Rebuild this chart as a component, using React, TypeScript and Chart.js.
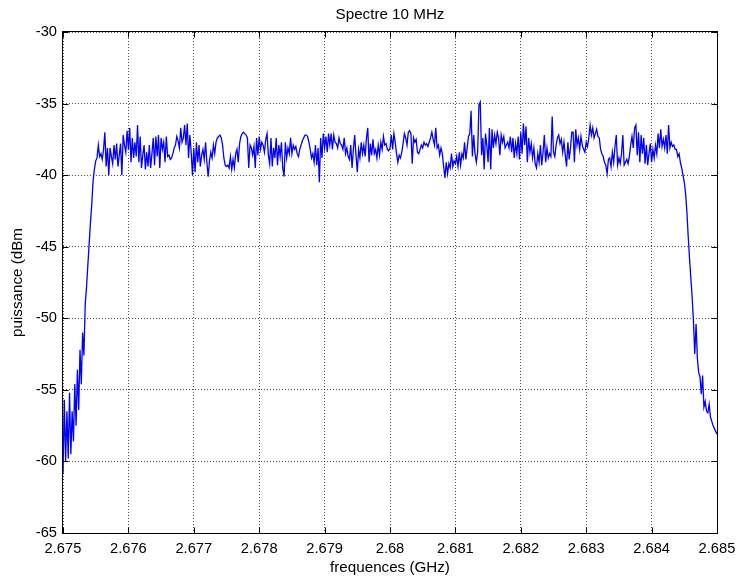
import React, { useEffect, useRef } from 'react';
import { Chart, registerables } from 'chart.js';

Chart.register(...registerables);

const TITLE = 'Spectre 10 MHz';
const X_LABEL = 'frequences (GHz)';
const Y_LABEL = 'puissance (dBm';

const X_TICKS = [2.675, 2.676, 2.677, 2.678, 2.679, 2.68, 2.681, 2.682, 2.683, 2.684, 2.685];
const X_TICK_LABELS = ['2.675', '2.676', '2.677', '2.678', '2.679', '2.68', '2.681', '2.682', '2.683', '2.684', '2.685'];
const Y_TICKS = [-65, -60, -55, -50, -45, -40, -35, -30];

const FREQ_START = 2.675; // GHz
const FREQ_STEP = 0.00002; // GHz between samples

// power samples (dBm), one block per 0.001 GHz
const seg0 = [-60.9, -55.7, -60.0, -56.5, -59.8, -55.2, -59.5, -56.5, -58.6, -54.6,
  -57.5, -53.6, -56.4, -52.2, -54.6, -51.0, -52.6, -49.0, -47.8, -46.3,
  -44.8, -43.3, -42.0, -40.4, -39.6, -39.0, -38.8, -37.9, -38.7, -38.5,
  -38.9, -38.2, -37.0, -39.4, -38.1, -40.0, -38.1, -38.7, -39.2, -37.9,
  -38.9, -37.8, -39.4, -38.6, -37.8, -40.0, -37.2, -37.9, -38.4, -36.9];
const seg1 = [-38.2, -36.7, -39.1, -37.4, -38.8, -37.7, -38.7, -36.5, -39.1, -37.3,
  -39.5, -38.6, -37.9, -39.6, -38.4, -39.4, -37.9, -39.5, -38.5, -37.4,
  -39.3, -37.3, -38.7, -37.2, -39.5, -37.4, -38.2, -37.7, -39.1, -37.3,
  -38.7, -38.6, -38.9, -38.8, -38.5, -38.1, -37.9, -37.3, -37.6, -38.1,
  -36.7, -37.7, -37.4, -36.5, -37.9, -36.4, -38.8, -37.2, -38.4, -40.0];
const seg2 = [-38.1, -39.8, -37.7, -39.1, -37.9, -39.4, -38.6, -38.2, -38.9, -37.7,
  -39.1, -40.1, -39.0, -38.4, -38.8, -37.9, -38.5, -37.7, -37.4, -37.3,
  -37.2, -37.4, -37.9, -38.8, -39.3, -39.4, -39.3, -39.5, -38.7, -39.6,
  -38.9, -39.5, -38.5, -38.2, -39.1, -37.8, -37.3, -37.1, -37.0, -37.1,
  -37.2, -37.4, -39.5, -37.9, -38.1, -38.6, -38.0, -39.5, -37.4, -38.6];
const seg3 = [-37.3, -38.2, -37.7, -37.9, -38.4, -37.5, -37.1, -38.6, -39.2, -37.4,
  -39.4, -38.1, -38.8, -37.4, -39.3, -37.9, -38.7, -37.7, -39.5, -40.1,
  -37.7, -38.8, -38.1, -38.5, -37.4, -38.5, -37.9, -38.2, -38.0, -38.5,
  -38.7, -38.2, -37.9, -37.6, -37.4, -37.2, -37.2, -37.3, -37.7, -38.2,
  -38.8, -38.5, -39.1, -37.9, -39.3, -38.1, -40.5, -37.4, -38.8, -37.1];
const seg4 = [-38.1, -37.3, -38.4, -37.1, -37.9, -37.1, -38.2, -37.2, -37.7, -37.8,
  -38.1, -37.4, -37.8, -37.9, -38.2, -37.4, -38.5, -38.1, -38.7, -38.9,
  -37.9, -39.5, -38.2, -37.2, -38.6, -39.8, -38.2, -38.8, -37.7, -38.5,
  -37.9, -38.7, -37.4, -36.7, -39.1, -37.8, -38.6, -37.5, -38.5, -38.2,
  -38.8, -37.9, -38.6, -37.7, -38.2, -37.3, -37.9, -37.8, -38.2, -38.3];
const seg5 = [-38.1, -37.2, -38.2, -37.1, -37.7, -38.5, -39.1, -38.6, -38.8, -38.4,
  -37.8, -37.1, -37.4, -37.9, -37.0, -36.9, -37.1, -39.2, -37.4, -37.7,
  -37.5, -38.4, -38.5, -38.2, -37.9, -38.1, -37.7, -37.9, -37.8, -38.0,
  -37.7, -37.4, -37.0, -37.5, -37.9, -36.7, -38.1, -37.9, -38.6, -38.1,
  -38.5, -39.4, -40.2, -39.1, -39.9, -39.2, -39.5, -38.5, -39.4, -39.0];
const seg6 = [-39.2, -38.7, -39.4, -38.4, -39.3, -38.5, -38.8, -37.7, -38.9, -38.1,
  -37.3, -37.1, -35.5, -38.7, -37.2, -38.5, -39.1, -38.4, -35.1, -34.9,
  -38.6, -37.4, -39.6, -37.1, -37.9, -39.1, -36.7, -39.6, -36.8, -38.1,
  -37.2, -37.8, -37.0, -37.4, -38.6, -37.2, -37.7, -37.3, -38.1, -37.9,
  -37.7, -38.1, -37.3, -38.4, -37.4, -38.8, -37.8, -38.5, -37.3, -38.9];
const seg7 = [-37.0, -38.5, -36.4, -37.9, -36.6, -39.1, -37.4, -38.4, -37.8, -38.8,
  -38.1, -39.2, -39.5, -38.5, -39.1, -37.9, -39.3, -38.4, -37.2, -39.1,
  -38.1, -38.8, -38.5, -38.7, -35.9, -38.4, -38.7, -37.9, -37.4, -37.2,
  -37.8, -37.5, -38.4, -37.7, -38.6, -39.4, -37.7, -38.9, -38.1, -37.0,
  -37.0, -39.1, -36.8, -37.9, -37.4, -38.2, -37.3, -37.9, -38.2, -38.4];
const seg8 = [-37.7, -38.0, -37.4, -36.5, -37.2, -36.7, -37.4, -37.1, -36.8, -37.3,
  -37.4, -38.2, -38.5, -38.7, -39.1, -39.3, -39.9, -38.9, -38.8, -39.4,
  -38.4, -39.1, -38.0, -37.2, -39.3, -38.8, -39.2, -38.5, -37.2, -39.3,
  -39.1, -38.9, -39.2, -38.7, -37.9, -37.3, -38.1, -36.7, -36.5, -38.6,
  -37.0, -39.1, -37.2, -38.5, -37.4, -39.2, -37.9, -39.3, -38.5, -37.8];
const seg9 = [-39.1, -38.2, -38.8, -37.9, -38.5, -37.1, -38.1, -36.8, -38.0, -37.5,
  -38.1, -37.2, -38.5, -36.5, -38.1, -37.7, -38.0, -37.9, -38.2, -38.2,
  -38.7, -38.5, -39.1, -39.5, -40.0, -40.5, -41.3, -42.6, -44.3, -45.8,
  -47.2, -48.5, -50.2, -52.5, -50.4, -52.8, -53.8, -54.1, -55.3, -54.0,
  -56.2, -55.8, -56.5, -56.6, -56.0, -56.9, -57.2, -57.5, -57.7, -57.9,
  -58.1];

const POWER = [...seg0, ...seg1, ...seg2, ...seg3, ...seg4, ...seg5, ...seg6, ...seg7, ...seg8, ...seg9];
const FREQS = POWER.map((_, i) => +(FREQ_START + i * FREQ_STEP).toFixed(6));

const FONT_FAMILY = '"Liberation Sans", Arial, Helvetica, sans-serif';
const LABEL_SIZE = 15.2;
const TICK_SIZE = 14.7;

const axesBox = {
  id: 'axesBox',
  afterDatasetsDraw(chart: any) {
    const { ctx, chartArea: a, scales } = chart;
    const L = Math.round(a.left) - 0.5;
    const R = Math.round(a.right) + 0.5;
    const T = Math.round(a.top) - 0.5;
    const B = Math.round(a.bottom) + 0.5;
    ctx.save();
    ctx.setLineDash([]);
    ctx.strokeStyle = '#000';
    ctx.lineWidth = 1;
    ctx.strokeRect(L, T, R - L, B - T);
    const tl = 6;
    ctx.beginPath();
    for (const v of X_TICKS) {
      const px = Math.round(scales.x.getPixelForValue(v)) + 0.5;
      ctx.moveTo(px, B);
      ctx.lineTo(px, B - tl);
      ctx.moveTo(px, T);
      ctx.lineTo(px, T + tl);
    }
    for (const v of Y_TICKS) {
      const py = Math.round(scales.y.getPixelForValue(v)) + 0.5;
      ctx.moveTo(L, py);
      ctx.lineTo(L + tl, py);
      ctx.moveTo(R, py);
      ctx.lineTo(R - tl, py);
    }
    ctx.stroke();
    // title centred over the axes box
    ctx.fillStyle = '#000';
    ctx.font = `normal ${LABEL_SIZE}px ${FONT_FAMILY}`;
    ctx.textAlign = 'center';
    ctx.textBaseline = 'middle';
    ctx.fillText(TITLE, (a.left + a.right) / 2, 14.5);
    ctx.restore();
  },
};

export default function App() {
  const canvasRef = useRef<HTMLCanvasElement | null>(null);

  useEffect(() => {
    const canvas = canvasRef.current;
    if (!canvas) return;
    const tickFont = { family: FONT_FAMILY, size: TICK_SIZE, lineHeight: 1.2 };
    const labelFont = { family: FONT_FAMILY, size: LABEL_SIZE, lineHeight: 1.2 };
    const chart = new Chart(canvas, {
      type: 'line',
      data: {
        datasets: [
          {
            data: FREQS.map((f, i) => ({ x: f, y: POWER[i] })),
            borderColor: '#0000ff',
            borderWidth: 1.3,
            pointRadius: 0,
            tension: 0,
            fill: false,
          },
        ],
      },
      options: {
        responsive: false,
        maintainAspectRatio: false,
        animation: false,
        devicePixelRatio: 1,
        layout: { padding: { left: 0, right: 19, top: 32, bottom: 0 } },
        plugins: {
          legend: { display: false },
          tooltip: { enabled: false },
          title: { display: false },
        },
        scales: {
          x: {
            type: 'linear',
            min: 2.675,
            max: 2.685,
            afterBuildTicks: (s: any) => {
              s.ticks = X_TICKS.map((v) => ({ value: v }));
            },
            afterFit: (s: any) => {
              s.height = 47;
              s.paddingLeft = 0;
              s.paddingRight = 0;
            },
            ticks: {
              autoSkip: false,
              maxRotation: 0,
              minRotation: 0,
              padding: 7,
              color: '#000',
              font: tickFont,
              callback: (_v: any, i: number) => X_TICK_LABELS[i],
            },
            grid: { color: 'rgba(0,0,0,0.7)', lineWidth: 1, drawTicks: false },
            border: { display: false, dash: [1, 2] },
            title: {
              display: true,
              text: X_LABEL,
              color: '#000',
              font: labelFont,
              padding: { top: 0, bottom: 3 },
            },
          },
          y: {
            type: 'linear',
            min: -65,
            max: -30,
            afterBuildTicks: (s: any) => {
              s.ticks = Y_TICKS.map((v) => ({ value: v }));
            },
            afterFit: (s: any) => {
              s.width = 63;
              s.paddingTop = 0;
              s.paddingBottom = 0;
            },
            ticks: {
              padding: 6,
              color: '#000',
              font: tickFont,
              callback: (v: any) => String(v),
            },
            grid: { color: 'rgba(0,0,0,0.7)', lineWidth: 1, drawTicks: false },
            border: { display: false, dash: [1, 2] },
            title: {
              display: true,
              text: Y_LABEL,
              color: '#000',
              font: labelFont,
              padding: { top: 9, bottom: 0 },
            },
          },
        },
      },
      plugins: [axesBox],
    } as any);
    return () => chart.destroy();
  }, []);

  return (
    <div style={{ position: 'absolute', left: 0, top: 0, width: 736, height: 580, background: '#fff' }}>
      <canvas ref={canvasRef} width={736} height={580} style={{ width: 736, height: 580, display: 'block' }} />
    </div>
  );
}
